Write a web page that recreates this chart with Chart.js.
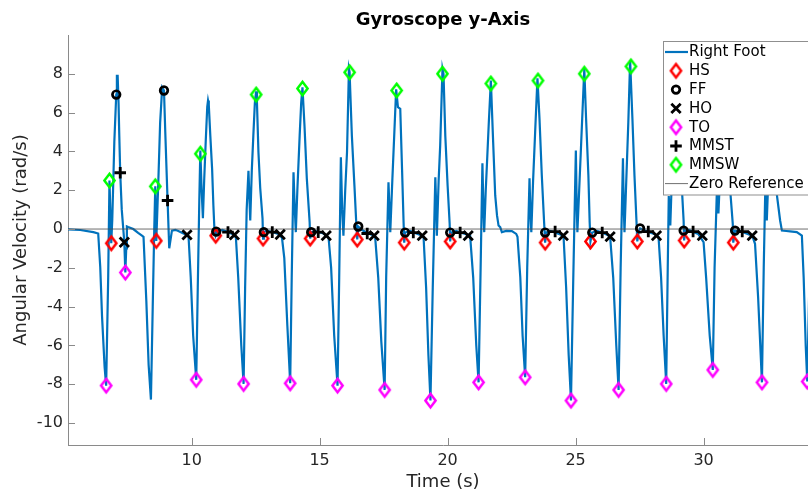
<!DOCTYPE html>
<html><head><meta charset="utf-8">
<script src="https://cdn.jsdelivr.net/npm/chart.js@4.4.1/dist/chart.umd.min.js"></script>
<style>
html,body{margin:0;padding:0;overflow:hidden;background:#fff;width:808px;height:496px}
#wrap{position:absolute;left:0;top:0;width:840px;height:496px}
</style>
</head><body><div id="wrap"><canvas id="c" width="840" height="496"></canvas></div>
<script>
const chartTitle = 'Gyroscope y-Axis';
const xLabel = 'Time (s)';
const yLabel = 'Angular Velocity (rad/s)';
const xTicks = [10, 15, 20, 25, 30];
const yTicks = [-10, -8, -6, -4, -2, 0, 2, 4, 6, 8];
const xRange = [5.17, 34.47];
const yRange = [-11.13, 10];

// Right Foot gyroscope trace (time s, value rad/s)
const footT = [
 5.17, 5.65, 6.16, 6.35, 6.43, 6.50, 6.60, 6.66, 6.74, 6.79, 6.86, 6.90, 6.98, 7.055, 7.08, 7.11, 7.145, 7.17, 7.21, 7.27, 7.37, 7.41, 7.445, 7.47, 7.52, 7.72, 7.91, 8.06,
 8.12, 8.23, 8.32, 8.41, 8.48, 8.54, 8.58, 8.62, 8.70, 8.77, 8.85, 8.92, 8.97, 9.06, 9.125, 9.23, 9.36, 9.48, 9.68, 9.82, 9.88,
 9.965, 10.06, 10.18, 10.24, 10.30, 10.34, 10.39, 10.44, 10.49, 10.55, 10.61, 10.64, 10.67, 10.73, 10.80, 10.85, 10.89, 10.94, 11.01, 11.20, 11.42, 11.59, 11.67, 11.73,
 11.82, 11.94, 12.03, 12.09, 12.15, 12.22, 12.26, 12.29, 12.35, 12.41, 12.47, 12.52, 12.55, 12.61, 12.68, 12.77, 12.79, 12.82, 12.91, 13.15, 13.38, 13.53,
 13.62, 13.74, 13.85, 13.91, 13.98, 14.03, 14.07, 14.13, 14.22, 14.28, 14.33, 14.41, 14.50, 14.61, 14.63, 14.67, 14.83, 14.945, 15.10, 15.26, 15.35,
 15.45, 15.57, 15.70, 15.765, 15.83, 15.88, 15.93, 16.00, 16.07, 16.145, 16.17, 16.26, 16.36, 16.43, 16.47, 16.51, 16.66, 16.86, 17.055, 17.17,
 17.29, 17.41, 17.54, 17.60, 17.69, 17.73, 17.76, 17.84, 17.92, 17.99, 18.06, 18.15, 18.22, 18.28, 18.305, 18.34, 18.54, 18.73, 18.93, 19.06,
 19.16, 19.25, 19.33, 19.42, 19.52, 19.56, 19.58, 19.65, 19.71, 19.80, 19.84, 19.91, 20.00, 20.08, 20.10, 20.14, 20.34, 20.49, 20.69, 20.88,
 21.00, 21.12, 21.21, 21.29, 21.36, 21.40, 21.43, 21.49, 21.54, 21.61, 21.69, 21.77, 21.86, 21.93, 21.99, 22.055, 22.12, 22.29, 22.51, 22.68, 22.73,
 22.84, 22.93, 23.03, 23.11, 23.20, 23.23, 23.27, 23.34, 23.42, 23.51, 23.59, 23.68, 23.77, 23.81, 23.85, 24.00, 24.20, 24.40, 24.53,
 24.63, 24.73, 24.82, 24.91, 25.01, 25.04, 25.07, 25.14, 25.22, 25.34, 25.41, 25.50, 25.55, 25.58, 25.65, 25.84, 26.04, 26.23, 26.35,
 26.47, 26.59, 26.68, 26.76, 26.85, 26.88, 26.91, 26.98, 27.06, 27.13, 27.22, 27.30, 27.38, 27.41, 27.47, 27.52, 27.68, 27.84, 28.07, 28.24,
 28.34, 28.44, 28.54, 28.60, 28.64, 28.70, 28.77, 28.85, 28.93, 29.01, 29.09, 29.15, 29.22, 29.24, 29.28, 29.44, 29.59, 29.79, 30.00,
 30.10, 30.24, 30.36, 30.43, 30.52, 30.58, 30.65, 30.73, 30.81, 30.88, 30.96, 31.04, 31.14, 31.16, 31.23, 31.43, 31.62, 31.90, 32.01,
 32.13, 32.28, 32.35, 32.41, 32.47, 32.54, 32.62, 32.70, 32.78, 32.86, 32.99, 33.06, 33.23, 33.38, 33.64, 33.84, 33.91, 33.99, 34.05, 34.13, 34.19
];
const footV = [
 -0.02, -0.05, -0.16, -0.23, -1.97, -4.5, -7.1, -8.07, -2.5, 2.5, -0.73, 0.5, 4.5, 6.93, 7.9, 7.9, 6.5, 5.0, 2.9, 1.0, -0.68, -2.24, -1.0, 0.13, 0.1, 0.0, -0.2, -0.34,
 -0.4, -3.7, -7.0, -8.79, -4.0, 0.0, 2.2, -0.61, 2.5, 5.5, 7.3, 7.14, 5.0, 1.47, -0.99, -0.08, -0.04, -0.1, -0.23, -0.3, -0.4,
 -2.5, -5.5, -7.77, -3.0, 1.5, 4.05, 2.0, 0.56, 2.5, 4.5, 6.3, 6.62, 6.4, 4.8, 3.1, 1.2, 0.0, -0.34, -0.1, -0.05, -0.16, -0.25, -0.34, -0.45,
 -2.5, -6.0, -7.98, -3.0, 1.0, 3.0, 1.5, 0.44, 3.0, 4.8, 6.5, 7.1, 6.6, 3.96, 2.1, 0.54, -0.49, -0.16, -0.1, -0.15, -0.25, -0.45,
 -1.5, -5.0, -7.95, -2.5, 2.93, 1.0, -0.16, 2.0, 4.8, 6.5, 7.3, 5.3, 2.6, 0.35, -0.49, -0.16, -0.1, -0.16, -0.2, -0.34, -0.45,
 -2.0, -5.5, -8.07, -2.5, 3.7, 1.0, -0.34, 2.0, 3.96, 8.26, 8.1, 4.8, 2.24, 0.35, -0.54, 0.13, -0.05, -0.2, -0.3, -0.42,
 -2.5, -5.8, -8.29, -2.5, 2.41, 1.0, -0.16, 2.5, 5.0, 7.2, 6.28, 6.2, 3.1, 0.35, -0.7, -0.18, -0.1, -0.2, -0.3, -0.4,
 -3.0, -6.5, -8.84, -3.0, 2.67, 1.0, -0.34, 2.5, 4.3, 8.26, 8.0, 4.8, 2.24, 0.27, -0.64, -0.18, -0.1, -0.18, -0.25, -0.35,
 -2.5, -6.0, -7.9, -2.0, 3.39, 1.0, -0.16, 2.0, 3.44, 5.5, 7.65, 4.8, 1.73, 0.7, 0.18, 0.1, -0.16, -0.1, -0.11, -0.25, -0.4,
 -2.5, -5.5, -7.64, -2.0, 2.62, 1.0, -0.16, 2.5, 5.0, 7.77, 5.68, 2.76, 0.35, -0.7, -0.18, -0.1, -0.18, -0.28, -0.4,
 -3.0, -6.5, -8.84, -2.5, 4.05, 1.5, -0.16, 2.0, 4.5, 8.26, 5.68, 2.76, 0.35, -0.64, -0.18, -0.1, -0.18, -0.3, -0.4,
 -2.5, -6.0, -8.29, -2.0, 3.65, 1.2, -0.16, 2.5, 5.5, 8.69, 5.68, 2.76, 0.35, -0.64, -0.1, 0.03, -0.05, -0.15, -0.25, -0.4,
 -2.5, -5.5, -7.98, -2.0, 1.7, 0.18, 3.0, 6.0, 8.0, 6.0, 3.5, 2.15, 0.44, -0.59, -0.08, -0.05, -0.15, -0.25, -0.68,
 -2.5, -5.5, -7.26, -2.0, 2.0, 0.8, 3.0, 6.0, 8.0, 6.0, 3.5, 2.0, 0.27, -0.7, -0.08, -0.1, -0.2, -0.34, -0.76,
 -3.5, -7.9, -2.0, 2.0, 0.44, 3.0, 6.0, 8.2, 5.5, 1.8, 0.44, -0.08, -0.1, -0.12, -0.16, -0.34, -2.5, -6.0, -7.86, -3.0, 2.0
];

// Gait events
const hsT = [6.86, 8.62, 10.94, 12.79, 14.63, 16.47, 18.305, 20.10, 23.81, 25.58, 27.41, 29.24, 31.16];
const hsV = [-0.73, -0.61, -0.34, -0.49, -0.49, -0.54, -0.7, -0.64, -0.7, -0.64, -0.64, -0.59, -0.7];
const ffT = [7.055, 8.92, 10.96, 12.82, 14.67, 16.51, 18.34, 20.10, 23.81, 25.65, 27.52, 29.22, 31.23];
const ffV = [6.93, 7.14, -0.13, -0.16, -0.16, 0.13, -0.18, -0.18, -0.18, -0.18, 0.03, -0.08, -0.08];
const hoT = [7.37, 9.82, 11.67, 13.46, 15.26, 17.13, 19.01, 20.805, 24.52, 26.35, 28.16, 29.95, 31.90];
const hoV = [-0.68, -0.3, -0.3, -0.28, -0.34, -0.34, -0.34, -0.34, -0.34, -0.39, -0.34, -0.34, -0.34];
const toT = [6.66, 7.41, 10.18, 12.03, 13.85, 15.70, 17.54, 19.33, 21.21, 23.03, 24.82, 26.68, 28.54, 30.36, 32.28, 34.05];
const toV = [-8.07, -2.24, -7.77, -7.98, -7.95, -8.07, -8.29, -8.84, -7.9, -7.64, -8.84, -8.29, -7.98, -7.26, -7.9, -7.86];
const mmstT = [7.21, 9.06, 11.42, 13.15, 14.945, 16.86, 18.66, 20.49, 24.20, 26.04, 27.84, 29.59, 31.51];
const mmstV = [2.9, 1.47, -0.16, -0.16, -0.16, -0.23, -0.18, -0.18, -0.13, -0.18, -0.13, -0.13, -0.13];
const mmswT = [6.79, 8.58, 10.34, 12.52, 14.33, 16.17, 18.01, 19.80, 21.69, 23.53, 25.34, 27.16];
const mmswV = [2.5, 2.2, 3.88, 6.93, 7.24, 8.08, 7.14, 8.0, 7.5, 7.65, 8.0, 8.38];
const zeroT = [5.17, 34.47];
const zeroV = [0, 0];

function pts(t, v) { return t.map((x, i) => ({x: x, y: v[i]})); }

function diamondImg(color) {
  const c = document.createElement('canvas');
  c.width = 17; c.height = 19;
  const g = c.getContext('2d');
  g.strokeStyle = color; g.lineWidth = 2.5; g.lineJoin = 'miter';
  g.beginPath();
  g.moveTo(8.5, 2.8); g.lineTo(13.6, 9.5); g.lineTo(8.5, 16.2); g.lineTo(3.4, 9.5);
  g.closePath(); g.stroke();
  return c;
}

const FONT = 'DejaVu Sans';
Chart.defaults.font.family = FONT;

const titlePlugin = {
  id: 'mTitle',
  afterDraw(chart) {
    const ctx = chart.ctx, a = chart.chartArea;
    ctx.save();
    ctx.font = 'bold 18px "' + FONT + '"';
    ctx.fillStyle = '#000';
    ctx.textAlign = 'center'; ctx.textBaseline = 'middle';
    ctx.fillText(chartTitle, (a.left + a.right) / 2, 20);
    ctx.restore();
  }
};

const tickPlugin = {
  id: 'inTicks',
  afterDatasetsDraw(chart) {
    const ctx = chart.ctx, a = chart.chartArea;
    const xs = chart.scales.x, ys = chart.scales.y;
    ctx.save();
    ctx.strokeStyle = '#8a8a8a'; ctx.lineWidth = 1;
    ctx.beginPath();
    xs.ticks.forEach(t => {
      const px = Math.round(xs.getPixelForValue(t.value)) + 0.5;
      ctx.moveTo(px, a.bottom); ctx.lineTo(px, a.bottom - 7);
    });
    ys.ticks.forEach(t => {
      const py = Math.round(ys.getPixelForValue(t.value)) + 0.5;
      ctx.moveTo(a.left, py); ctx.lineTo(a.left + 7, py);
    });
    ctx.stroke();
    ctx.restore();
  }
};

const legendPlugin = {
  id: 'boxLegend',
  afterDraw(chart) {
    const ctx = chart.ctx;
    const x0 = 663.5, y0 = 41.5, w = 175, h = 153.5, rowH = 18.8, firstY = 52;
    ctx.save();
    ctx.fillStyle = '#fff'; ctx.fillRect(x0, y0, w, h);
    ctx.strokeStyle = '#8f8f8f'; ctx.lineWidth = 1; ctx.strokeRect(x0, y0, w, h);
    chart.data.datasets.forEach((ds, i) => {
      const cy = firstY + i * rowH, cx = 676;
      if (ds.showLine) {
        ctx.strokeStyle = ds.borderColor; ctx.lineWidth = ds.borderWidth;
        ctx.beginPath(); ctx.moveTo(665, cy); ctx.lineTo(688, cy); ctx.stroke();
      } else {
        ctx.strokeStyle = ds.borderColor; ctx.fillStyle = 'rgba(0,0,0,0)';
        ctx.lineWidth = ds.pointBorderWidth;
        Chart.helpers.drawPoint(ctx, {pointStyle: ds.pointStyle, radius: ds.pointRadius, borderWidth: ds.pointBorderWidth, rotation: 0}, cx, cy);
      }
      ctx.fillStyle = '#000';
      ctx.font = '15px "' + FONT + '"';
      ctx.textAlign = 'left'; ctx.textBaseline = 'middle';
      ctx.fillText(ds.label, 689, cy + 0.5);
    });
    ctx.restore();
  }
};

const markerBase = {showLine: false, backgroundColor: 'rgba(0,0,0,0)', pointBackgroundColor: 'rgba(0,0,0,0)'};

new Chart(document.getElementById('c'), {
  type: 'scatter',
  data: {
    datasets: [
      {label: 'Right Foot', data: pts(footT, footV), showLine: true, borderColor: '#0072BD', borderWidth: 2.2, pointRadius: 0, tension: 0, order: 9},
      Object.assign({label: 'HS', data: pts(hsT, hsV), pointStyle: diamondImg('#ff0000'), pointRadius: 6, borderColor: '#ff0000', pointBorderColor: '#ff0000', pointBorderWidth: 2.5, order: 7}, markerBase),
      Object.assign({label: 'FF', data: pts(ffT, ffV), pointStyle: 'circle', pointRadius: 3.8, borderColor: '#000', pointBorderColor: '#000', pointBorderWidth: 2.7, order: 6}, markerBase),
      Object.assign({label: 'HO', data: pts(hoT, hoV), pointStyle: 'crossRot', pointRadius: 6.6, borderColor: '#000', pointBorderColor: '#000', pointBorderWidth: 2.8, order: 5}, markerBase),
      Object.assign({label: 'TO', data: pts(toT, toV), pointStyle: diamondImg('#ff00ff'), pointRadius: 6, borderColor: '#ff00ff', pointBorderColor: '#ff00ff', pointBorderWidth: 2.5, order: 4}, markerBase),
      Object.assign({label: 'MMST', data: pts(mmstT, mmstV), pointStyle: 'cross', pointRadius: 5.8, borderColor: '#000', pointBorderColor: '#000', pointBorderWidth: 2.8, order: 3}, markerBase),
      Object.assign({label: 'MMSW', data: pts(mmswT, mmswV), pointStyle: diamondImg('#00ff00'), pointRadius: 6, borderColor: '#00ff00', pointBorderColor: '#00ff00', pointBorderWidth: 2.5, order: 2}, markerBase),
      {label: 'Zero Reference', data: pts(zeroT, zeroV), showLine: true, borderColor: '#4a4a4a', borderWidth: 0.8, pointRadius: 0, order: 8}
    ]
  },
  options: {
    responsive: false,
    animation: false,
    devicePixelRatio: 1,
    layout: {padding: {top: 35, right: 22, left: 0, bottom: 0}},
    plugins: {legend: {display: false}, tooltip: {enabled: false}, title: {display: false}},
    scales: {
      x: {
        type: 'linear', min: xRange[0], max: xRange[1],
        afterBuildTicks: s => { s.ticks = xTicks.map(v => ({value: v})); },
        afterFit: s => { s.height = 51; },
        ticks: {font: {family: FONT, size: 16}, color: '#262626', padding: 6, maxRotation: 0, autoSkip: false, callback: v => String(v)},
        grid: {display: true, color: 'rgba(0,0,0,0)', drawTicks: false},
        border: {display: true, color: '#8a8a8a', width: 1},
        title: {display: true, text: xLabel, font: {family: FONT, size: 18}, color: '#262626', padding: {top: 0, bottom: 3}}
      },
      y: {
        type: 'linear', min: yRange[0], max: yRange[1],
        afterBuildTicks: s => { s.ticks = yTicks.map(v => ({value: v})); },
        afterFit: s => { s.width = 68; },
        ticks: {font: {family: FONT, size: 16}, color: '#262626', padding: 5, autoSkip: false, callback: v => String(v)},
        grid: {display: true, color: 'rgba(0,0,0,0)', drawTicks: false},
        border: {display: true, color: '#8a8a8a', width: 1},
        title: {display: true, text: yLabel, font: {family: FONT, size: 18}, color: '#262626', padding: {top: 11, bottom: 0}}
      }
    }
  },
  plugins: [tickPlugin, titlePlugin, legendPlugin]
});
</script>
</body></html>
